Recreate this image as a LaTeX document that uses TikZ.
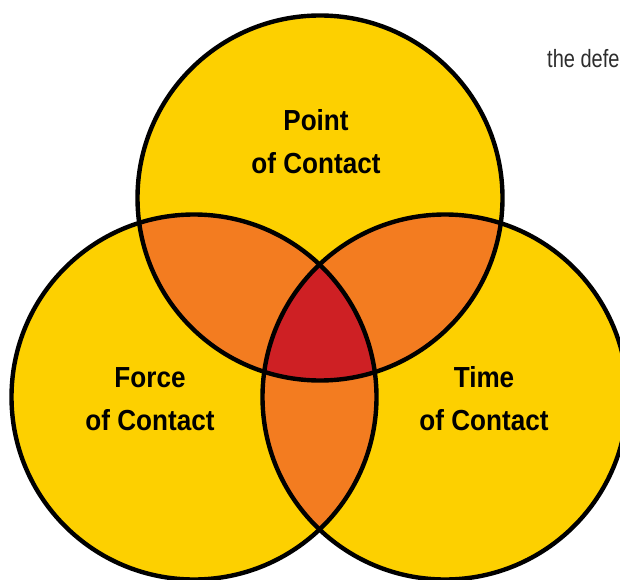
\documentclass[tikz,border=0pt]{standalone}
\usepackage{fontspec}
\setmainfont[FakeStretch=0.9]{Liberation Sans}
\newfontfamily\notefont[FakeStretch=0.8]{Liberation Sans}
\usepackage{xcolor}
\definecolor{vennyellow}{RGB}{253,208,0}
\definecolor{vennorange}{RGB}{243,124,32}
\definecolor{vennred}{RGB}{206,32,36}
\definecolor{notegray}{RGB}{45,45,45}
\tikzset{ring/.style={line width=4.4pt, draw=black},
	venntext/.style={font=\fontsize{29}{43}\selectfont\bfseries, align=center, text=black}}
\newcommand{\vennr}{182.5}

\begin{document}
\begin{tikzpicture}[x=1pt, y=1pt]
	\useasboundingbox (0,0) rectangle (620,579);
	\clip (0,0) rectangle (620,579);
	
	\coordinate (top) at (320,381);
	\coordinate (left) at (194,182);
	\coordinate (right) at (445,182);
	
	% yellow discs
	\foreach \c in {top,left,right}
		\fill[vennyellow] (\c) circle (\vennr);
	
	% two-way overlaps
	\begin{scope}
		\clip (top) circle (\vennr);
		\fill[vennorange] (left) circle (\vennr);
		\fill[vennorange] (right) circle (\vennr);
	\end{scope}
	\begin{scope}
		\clip (left) circle (\vennr);
		\fill[vennorange] (right) circle (\vennr);
	\end{scope}
	
	% centre
	\begin{scope}
		\clip (top) circle (\vennr);
		\clip (left) circle (\vennr);
		\fill[vennred] (right) circle (\vennr);
	\end{scope}
	
	% outlines
	\foreach \c in {top,left,right}
		\draw[ring] (\c) circle (\vennr);
	
	% labels
	\node[venntext] (point) at (316,437.5) {Point\\of Contact};
	\node[venntext] (force) at (150,180) {Force\\of Contact};
	\node[venntext] (time) at (484,180) {Time\\of Contact};
	
	% cut-off text, top right
	\node[anchor=base west, inner sep=0pt, font=\notefont\fontsize{25}{30}\selectfont, text=notegray] (note) at (547,511) {the defe};
\end{tikzpicture}
\end{document}
